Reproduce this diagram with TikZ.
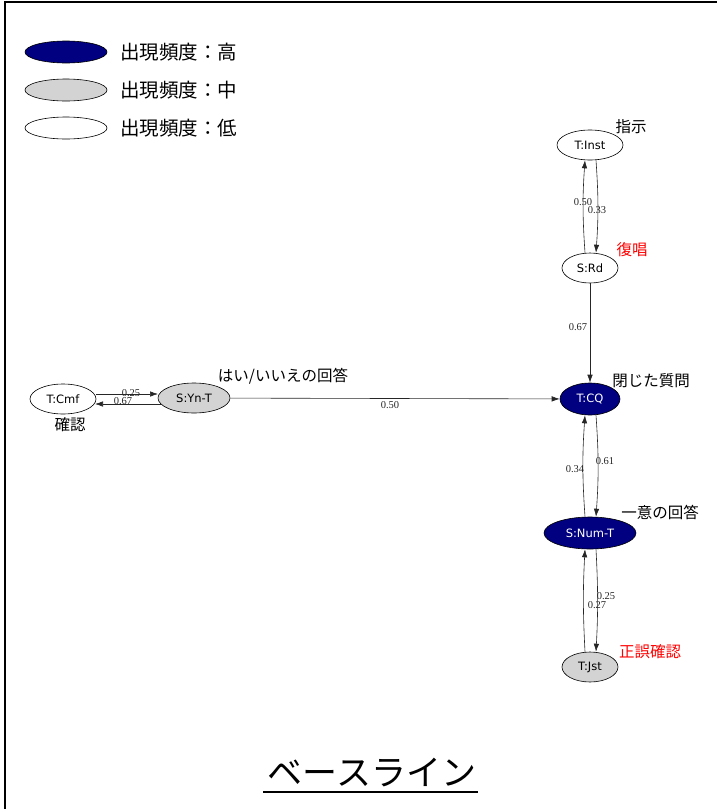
\documentclass[tikz,border=0pt]{standalone}
\usepackage{fontspec}
\usetikzlibrary{shapes.geometric,arrows.meta}
\newfontfamily\jpfont{Noto Sans CJK JP}
\newfontfamily\nodefont{DejaVu Sans}
\newfontfamily\numfont{Liberation Serif}
\definecolor{hi}{RGB}{0,0,128}
\definecolor{mid}{RGB}{211,211,211}
\tikzset{
  st/.style={ellipse, draw=black, line width=0.6pt, inner sep=0pt, font=\nodefont\fontsize{11.5}{13}\selectfont},
  sthi/.style={st, fill=hi, text=white},
  stmid/.style={st, fill=mid},
  stlo/.style={st, fill=white},
  edge/.style={draw=black!85, line width=0.6pt, -{Latex[length=8pt,width=5.5pt]}},
  lab/.style={font=\numfont\fontsize{10.5}{12}\selectfont, text=black!85, inner sep=0pt},
  jp/.style={font=\jpfont\fontsize{15.5}{17}\selectfont, inner sep=0pt},
  leg/.style={font=\jpfont\fontsize{19.5}{22}\selectfont, inner sep=0pt, anchor=west},
}
\begin{document}
\begin{tikzpicture}[x=1pt,y=-1pt]
\useasboundingbox (0,0) rectangle (717,809);
\draw[line width=1.2pt] (5,809) -- (5,2) -- (717,2);
% legend
\node[sthi, minimum width=82pt, minimum height=22pt] (l1) at (66,52) {};
\node[stmid, minimum width=82pt, minimum height=22pt] (l2) at (66,90) {};
\node[stlo, minimum width=82pt, minimum height=22pt] (l3) at (66,128) {};
\node[leg] (t1) at (120,52) {出現頻度：高};
\node[leg] (t2) at (120,90) {出現頻度：中};
\node[leg] (t3) at (120,128) {出現頻度：低};
% nodes
\node[stlo, minimum width=66pt, minimum height=30pt] (inst) at (590,145) {T:Inst};
\node[stlo, minimum width=56pt, minimum height=30pt] (rd) at (590,268) {S:Rd};
\node[sthi, minimum width=60pt, minimum height=32pt] (cq) at (590,399) {T:CQ};
\node[sthi, minimum width=92pt, minimum height=32pt] (num) at (590,533) {S:Num-T};
\node[stmid, minimum width=56pt, minimum height=30pt] (jst) at (590,667) {T:Jst};
\node[stlo, minimum width=66pt, minimum height=30pt] (cmf) at (63,399) {T:Cmf};
\node[stmid, minimum width=72pt, minimum height=30pt] (yn) at (194,398) {S:Yn-T};
% edges
\draw[edge] (rd.north) ++(-5,0) coordinate (a1) (a1) to[bend left=4] (inst.south -| a1);
\draw[edge] (inst.south) ++(6,0) coordinate (a2) (a2) to[bend left=4] (rd.north -| a2);
\node[lab] (e1) at (583,202) {0.50};
\node[lab] (e2) at (597,210) {0.33};
\draw[edge] (rd) -- (cq);
\node[lab] (e3) at (578,327) {0.67};
\draw[edge] (yn) -- (cq);
\node[lab] (e4) at (390,405) {0.50};
\coordinate (c1) at (96,394);
\coordinate (c2) at (158,394);
\coordinate (c3) at (161,404);
\coordinate (c4) at (95,404);
\draw[edge] (c1) -- (c2);
\draw[edge] (c3) -- (c4);
\node[lab] (e5) at (131,393) {0.25};
\node[lab] (e6) at (123,401) {0.67};
\draw[edge] (num.north) ++(-5,0) coordinate (a3) (a3) to[bend left=4] (cq.south -| a3);
\draw[edge] (cq.south) ++(6,0) coordinate (a4) (a4) to[bend left=4] (num.north -| a4);
\node[lab] (e7) at (575,469) {0.34};
\node[lab] (e8) at (605,461) {0.61};
\draw[edge] (jst.north) ++(-5,0) coordinate (a5) (a5) to[bend left=3] (num.south -| a5);
\draw[edge] (num.south) ++(6,0) coordinate (a6) (a6) to[bend left=3] (jst.north -| a6);
\node[lab] (e9) at (597,605) {0.27};
\node[lab] (e10) at (606,596) {0.25};
% annotations
\node[jp] (n1) at (631,127) {指示};
\node[jp, text=red] (n2) at (632,250) {復唱};
\node[jp] (n3) at (651,381) {閉じた質問};
\node[jp] (n4) at (660,512) {一意の回答};
\node[jp, text=red] (n5) at (650,652) {正誤確認};
\node[jp] (n6) at (283,376) {はい/いいえの回答};
\node[jp] (n7) at (70,425) {確認};
% title
\node[font=\jpfont\fontsize{35}{40}\selectfont, inner sep=0pt] (title) at (372,773) {ベースライン};
\draw[line width=1.2pt] (263,792) -- (478,792);
\end{tikzpicture}
\end{document}
